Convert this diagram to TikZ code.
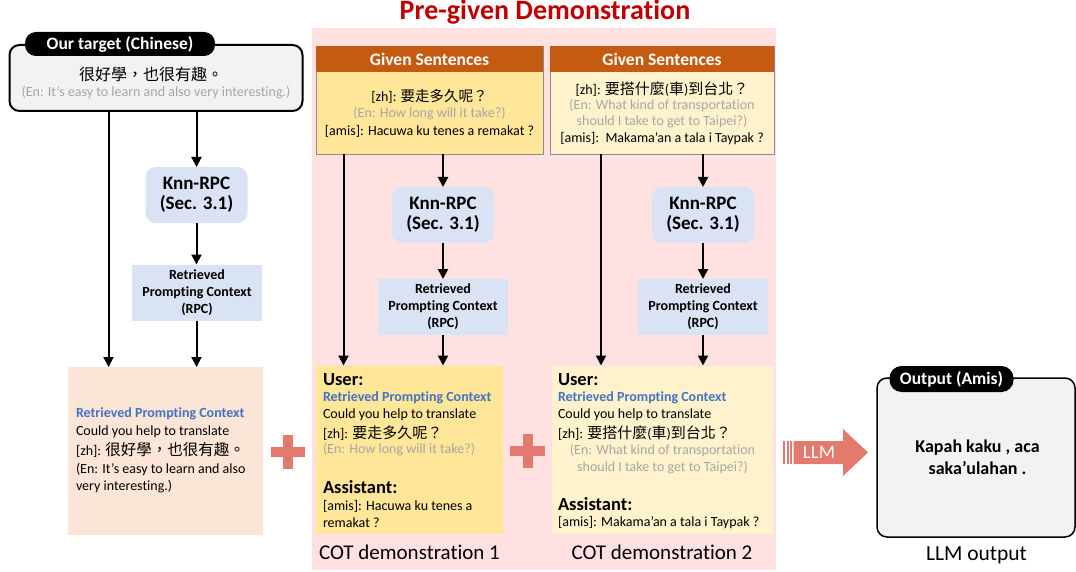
\documentclass[tikz,border=0pt]{standalone}
\usepackage{fontspec}
\setmainfont[Ligatures=NoCommon]{Carlito}
\newfontfamily\cjk{Noto Sans CJK TC}
\usetikzlibrary{arrows.meta}
\definecolor{pinkbg}{HTML}{FFE1E1}
\definecolor{knnblue}{HTML}{DAE3F3}
\definecolor{peach}{HTML}{FBE5D6}
\definecolor{ybox}{HTML}{FFE699}
\definecolor{lybox}{HTML}{FFF2CC}
\definecolor{hdr}{HTML}{C55A11}
\definecolor{plusc}{HTML}{E47A6E}
\definecolor{rpcblue}{HTML}{4472C4}
\definecolor{titlered}{HTML}{C00000}
\definecolor{graytext}{HTML}{A6A6A6}
\definecolor{lgray}{HTML}{F2F2F2}
\begin{document}
\begin{tikzpicture}[x=1pt,y=-1pt,
  every node/.style={inner sep=0pt, outer sep=0pt},
  arr/.style={-{Triangle[length=10pt,width=10pt]}, line width=2pt},
  knn/.style={fill=knnblue, rounded corners=10pt, minimum width=102pt, minimum height=56pt, align=center, font=\bfseries\fontsize{19}{20}\selectfont},
  rpc/.style={fill=knnblue, minimum width=130pt, minimum height=56pt, align=center, font=\bfseries\fontsize{14}{17}\selectfont},
  body/.style={anchor=west, font=\fontsize{14}{17}\selectfont},
  bodyc/.style={font=\fontsize{14}{17}\selectfont},
  blue/.style={anchor=west, text=rpcblue, font=\bfseries\fontsize{14}{17}\selectfont},
  role/.style={anchor=west, font=\bfseries\fontsize{18.5}{20}\selectfont},
  gray/.style={text=graytext},
  pill/.style={fill=black, text=white, rounded corners=11pt, font=\bfseries\fontsize{17.5}{18}\selectfont},
  hdrbox/.style={fill=hdr, text=white, minimum width=227pt, minimum height=26pt, font=\bfseries\fontsize{17.5}{18}\selectfont},
  caption/.style={font=\fontsize{21}{24}\selectfont}
]
\useasboundingbox (0,0) rectangle (1076,572);
% pink background
\fill[pinkbg] (312,28) rectangle (776,570);
\node[text=titlered, font=\bfseries\fontsize{28}{32}\selectfont] (title) at (545,12) {Pre-given Demonstration};

% ---------- target column ----------
\node[draw, line width=2pt, rounded corners=10pt, fill=lgray, minimum width=293pt, minimum height=66pt] (target) at (156,78) {};
\node[pill, minimum width=190pt, minimum height=24pt] (tpill) at (120,44) {Our target (Chinese)};
\node[font=\cjk\fontsize{16}{18}\selectfont] (tzh) at (151,74) {很好學，也很有趣。};
\node[gray, font=\fontsize{14}{16}\selectfont] (ten) at (156,93) {(En: It's easy to learn and also very interesting.)};

\node[knn] (knn1) at (196.5,195) {Knn-RPC\\(Sec. 3.1)};
\node[rpc] (rpc1) at (197,292.5) {Retrieved\\Prompting Context\\(RPC)};
\node[fill=peach, minimum width=195pt, minimum height=168pt] (peachbox) at (165.5,451) {};
\node[blue] (p1) at (76,414) {Retrieved Prompting Context};
\node[body] (p2) at (76,432) {Could you help to translate};
\node[body] (p3) at (76,450) {[zh]: {\cjk\fontsize{15.5}{17}\selectfont 很好學，也很有趣。}};
\node[body] (p4) at (76,470) {(En: It's easy to learn and also};
\node[body] (p5) at (76,487) {very interesting.)};

\coordinate (t1) at (108.5,111);
\coordinate (t2) at (196.5,111);
\draw[arr] (t1) -- (t1 |- peachbox.north);
\draw[arr] (t2) -- (knn1.north);
\draw[arr] (knn1.south) -- (rpc1.north -| knn1.south);
\draw[arr] (rpc1.south -| knn1.south) -- (peachbox.north -| knn1.south);

% plus 1
\fill[plusc] (271,447) rectangle (305,457);
\fill[plusc] (283,435) rectangle (293,469);

% ---------- demonstration 1 ----------
\node[draw=black!45, line width=0.8pt, fill=ybox, minimum width=227pt, minimum height=108pt] (g1) at (429.5,100) {};
\node[hdrbox] (g1h) at (429.5,59.5) {Given Sentences};
\node[bodyc] (g1a) at (429.5,96) {[zh]: {\cjk\fontsize{14.5}{17}\selectfont 要走多久呢？}};
\node[bodyc, gray] (g1b) at (429.5,114) {(En: How long will it take?)};
\node[bodyc] (g1c) at (429.5,131) {[amis]: Hacuwa ku tenes a remakat ?};

\node[knn] (knn2) at (443,215) {Knn-RPC\\(Sec. 3.1)};
\node[rpc] (rpc2) at (443,307) {Retrieved\\Prompting Context\\(RPC)};
\node[fill=ybox, minimum width=187pt, minimum height=168pt] (u1) at (409.5,449.5) {};
\node[role] (u1a) at (323,380) {User:};
\node[blue] (u1b) at (323,398) {Retrieved Prompting Context};
\node[body] (u1c) at (323,415) {Could you help to translate};
\node[body] (u1d) at (323,433) {[zh]: {\cjk\fontsize{15}{17}\selectfont 要走多久呢？}};
\node[body, gray] (u1e) at (323,450) {(En: How long will it take?)};
\node[role] (u1f) at (323,487) {Assistant:};
\node[body] (u1g) at (323,506) {[amis]: Hacuwa ku tenes a};
\node[body] (u1h) at (323,523) {remakat ?};
\node[caption] (cap1) at (409.5,552) {COT demonstration 1};

\coordinate (m1) at (343.5,154);
\coordinate (m2) at (443,154);
\draw[arr] (m1) -- (m1 |- u1.north);
\draw[arr] (m2) -- (knn2.north);
\draw[arr] (knn2.south) -- (rpc2.north);
\draw[arr] (rpc2.south) -- (u1.north -| rpc2.south);

% plus 2
\fill[plusc] (510,446) rectangle (545,456);
\fill[plusc] (522.5,434) rectangle (532.5,468);

% ---------- demonstration 2 ----------
\node[draw=black!45, line width=0.8pt, fill=lybox, minimum width=224pt, minimum height=108pt] (g2) at (662,100) {};
\node[hdrbox, minimum width=224pt] (g2h) at (662,59.5) {Given Sentences};
\node[bodyc] (g2a) at (662,89) {[zh]: {\cjk\fontsize{15}{17}\selectfont 要搭什麼}({\cjk\fontsize{15}{17}\selectfont 車}){\cjk\fontsize{15}{17}\selectfont 到台北？}};
\node[bodyc, gray] (g2b) at (662,106) {(En: What kind of transportation};
\node[bodyc, gray] (g2c) at (662,122) {should I take to get to Taipei?)};
\node[bodyc] (g2d) at (662,139) {[amis]:\ \ Makama’an a tala i Taypak ?};

\node[knn] (knn3) at (703,215) {Knn-RPC\\(Sec. 3.1)};
\node[rpc] (rpc3) at (703,307) {Retrieved\\Prompting Context\\(RPC)};
\node[fill=lybox, minimum width=221pt, minimum height=168pt] (u2) at (662.5,449.5) {};
\node[role] (u2a) at (558,380) {User:};
\node[blue] (u2b) at (558,398) {Retrieved Prompting Context};
\node[body] (u2c) at (558,415) {Could you help to translate};
\node[body] (u2d) at (558,433) {[zh]: {\cjk\fontsize{15}{17}\selectfont 要搭什麼}({\cjk\fontsize{15}{17}\selectfont 車}){\cjk\fontsize{15}{17}\selectfont 到台北？}};
\node[bodyc, gray] (u2e) at (662.5,451) {(En: What kind of transportation};
\node[bodyc, gray] (u2f) at (662.5,468) {should I take to get to Taipei?)};
\node[role] (u2g) at (558,504) {Assistant:};
\node[body] (u2h) at (558,523) {[amis]: Makama’an a tala i Taypak ?};
\node[caption] (cap2) at (662,552) {COT demonstration 2};

\coordinate (r1) at (601,154);
\coordinate (r2) at (703,154);
\draw[arr] (r1) -- (r1 |- u2.north);
\draw[arr] (r2) -- (knn3.north);
\draw[arr] (knn3.south) -- (rpc3.north);
\draw[arr] (rpc3.south) -- (u2.north -| rpc3.south);

% ---------- LLM arrow ----------
\fill[plusc] (783,441) rectangle (785,464);
\fill[plusc] (786.5,441) rectangle (788.5,464);
\fill[plusc] (790,441) rectangle (792,464);
\fill[plusc] (793.5,441) -- (843,441) -- (843,429) -- (868,452.5) -- (843,476) -- (843,464) -- (793.5,464) -- cycle;
\node[text=white, font=\fontsize{19}{20}\selectfont] (llm) at (819,452.5) {LLM};

% ---------- output ----------
\node[draw, line width=1.5pt, rounded corners=10pt, fill=lgray, minimum width=198pt, minimum height=159pt] (out) at (976,457.5) {};
\node[pill, minimum width=124pt, minimum height=26pt, rounded corners=12pt] (opill) at (951.5,379) {Output (Amis)};
\node[align=center, font=\bfseries\fontsize{18}{22}\selectfont] (otext) at (977.5,457.5) {Kapah kaku , aca\\saka’ulahan .};
\node[caption, font=\fontsize{21.5}{24}\selectfont] (cap3) at (976.5,555) {LLM output};
\end{tikzpicture}
\end{document}
